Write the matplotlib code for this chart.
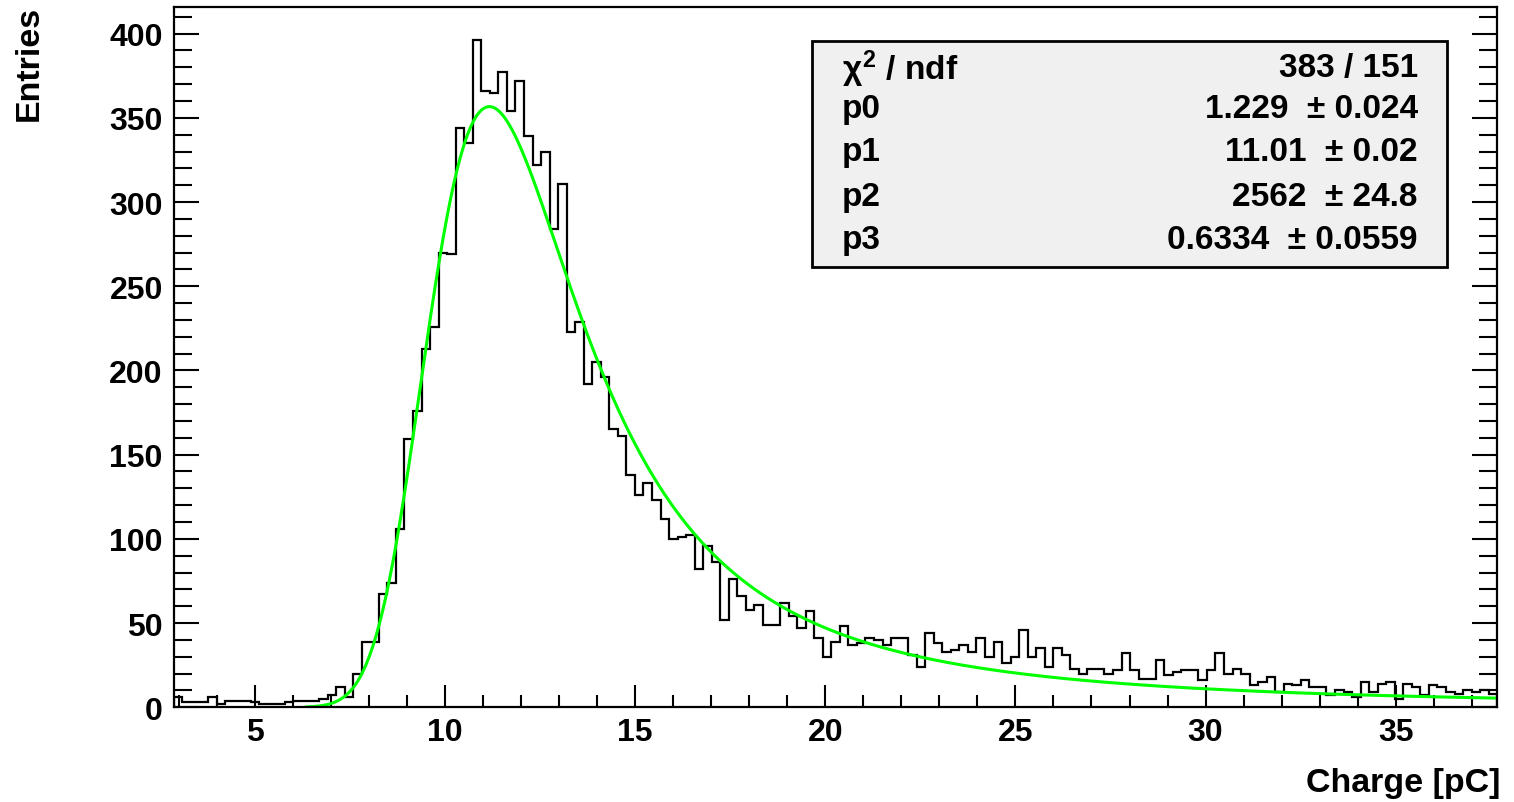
import numpy as np
import matplotlib
matplotlib.use("Agg")
import matplotlib.pyplot as plt
from matplotlib.patches import Rectangle

plt.rcParams['font.family'] = ['Liberation Sans', 'DejaVu Sans']
plt.rcParams['font.weight'] = 'bold'
plt.rcParams['mathtext.fontset'] = 'custom'
plt.rcParams['mathtext.rm'] = 'Liberation Sans:bold'
plt.rcParams['mathtext.it'] = 'Liberation Sans'
plt.rcParams['mathtext.bf'] = 'Liberation Sans:bold'

## histogram content (155 bins)
counts = [6, 3, 3, 3, 6, 2, 4, 4, 4, 3,
          2, 2, 2, 3, 4, 4, 4, 5, 7, 12,
          6, 20, 39, 39, 67, 74, 106, 159, 176, 213,
          226, 270, 269, 344, 335, 396, 366, 365, 377, 354,
          372, 339, 322, 330, 284, 311, 223, 229, 192, 205,
          196, 165, 161, 138, 126, 133, 123, 112, 100, 101,
          102, 82, 96, 86, 52, 76, 66, 58, 61, 49,
          49, 62, 54, 47, 57, 41, 30, 39, 48, 37,
          38, 41, 40, 37, 41, 41, 31, 24, 44, 38,
          33, 34, 37, 33, 41, 30, 39, 26, 30, 46,
          30, 35, 24, 35, 31, 23, 20, 23, 23, 20,
          22, 32, 22, 17, 17, 28, 19, 21, 22, 22,
          16, 22, 32, 20, 23, 20, 13, 15, 18, 9,
          14, 13, 16, 12, 12, 7, 10, 9, 6, 15,
          9, 14, 15, 5, 14, 12, 7, 13, 12, 9,
          8, 10, 9, 10, 8]
x_lo, x_hi = 2.87, 37.67
edges = np.linspace(x_lo, x_hi, len(counts) + 1)

## fit result (landau (x) gauss)
par = [1.229, 11.01, 2562, 0.6334]
par_err = [0.024, 0.02, 24.8, 0.0559]
chi2, ndf = 383, 151


def landau(lam):
    # standard landau density from its integral representation
    out = np.zeros_like(lam)
    t = np.linspace(0, 60, 30001)[1:]
    tl = t * np.log(t)
    st = np.sin(np.pi * t)
    idx = np.where(lam > -3.5)[0]
    for k in range(0, len(idx), 100):
        ii = idx[k:k + 100]
        g = np.exp(-tl[None, :] - lam[ii, None] * t[None, :]) * st[None, :]
        out[ii] = np.trapezoid(g, t, axis=1) / np.pi
    return out


def langaus(x, p):
    mpshift = -0.22278298
    mpc = p[1] - mpshift * p[0]
    s = p[3]
    xx = np.arange(x.min() - 5 * s, x.max() + 5 * s, 0.01)
    fl = landau((xx - mpc) / p[0]) / p[0]
    g = np.exp(-0.5 * ((x[:, None] - xx[None, :]) / s) ** 2) / (np.sqrt(2 * np.pi) * s)
    return p[2] * (g * fl[None, :]).sum(axis=1) * 0.01


xf = np.linspace(x_lo, x_hi, 800)
yf = langaus(xf, par)
yf[yf < 0.2] = np.nan

fig = plt.figure(figsize=(15.14, 8.03), dpi=100)
ax = fig.add_axes([0.1149, 0.118, 0.874, 0.872])

ax.stairs(counts, edges, color='black', lw=1.6)
ax.plot(xf, yf, color='#00ff00', lw=2.2)

ax.set_xlim(x_lo, x_hi)
ax.set_ylim(0, max(counts) * 1.05)
ax.set_xticks(np.arange(5, 36, 5))
ax.set_xticks(np.arange(3, 38, 1), minor=True)
ax.set_yticks(np.arange(0, 401, 50))
ax.set_yticks(np.arange(0, 411, 10), minor=True)
ax.tick_params(which='both', direction='in', top=False, right=True,
               width=1.5, labelsize=23, colors='black')
ax.tick_params(axis='x', which='major', length=16, pad=7)
ax.tick_params(axis='x', which='minor', length=9)
ax.tick_params(axis='y', which='major', length=18, pad=8)
ax.tick_params(axis='y', which='minor', length=13)
for sp in ax.spines.values():
    sp.set_linewidth(1.6)

fig.text(0.0195, 0.993, 'Entries', rotation=90, ha='center', va='top',
         fontsize=24.5, fontweight='bold')
fig.text(0.991, 0.024, 'Charge [pC]', ha='right', va='center',
         fontsize=24.5, fontweight='bold')

# stats box
ax.add_patch(Rectangle((0.482, 0.629), 0.48, 0.323, transform=ax.transAxes,
                       facecolor='#f0f0f0', edgecolor='black', lw=2, zorder=5))
rows = [(r'$\chi^{2}$ / ndf', '%d / %d' % (chi2, ndf))]
for i in range(4):
    rows.append(('p%d' % i, '%s  ± %s' % (par[i], par_err[i])))
row_y = [0.913, 0.855, 0.793, 0.730, 0.668]
for (lab, val), yy in zip(rows, row_y):
    ax.text(0.505, yy, lab, transform=ax.transAxes, ha='left', va='center',
            fontsize=24, fontweight='bold', zorder=6)
    ax.text(0.940, yy, val, transform=ax.transAxes, ha='right', va='center',
            fontsize=24, fontweight='bold', zorder=6)

fig.savefig('out.png', dpi=100)
